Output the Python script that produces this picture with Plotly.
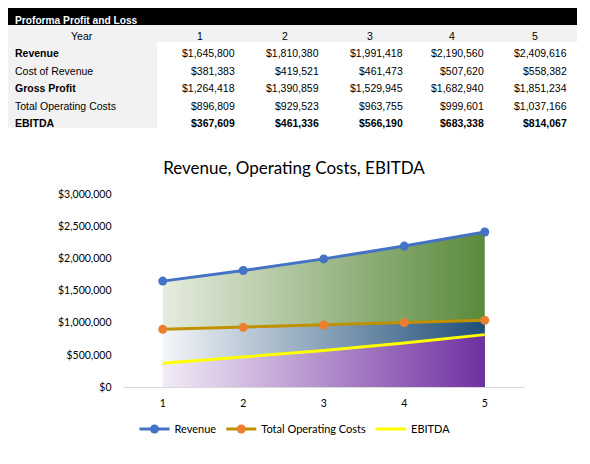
import plotly.graph_objects as go

years = [1, 2, 3, 4, 5]
revenue = [1645800, 1810380, 1991418, 2190560, 2409616]
cost_of_revenue = [381383, 419521, 461473, 507620, 558382]
gross_profit = [1264418, 1390859, 1529945, 1682940, 1851234]
operating_costs = [896809, 929523, 963755, 999601, 1037166]
ebitda = [367609, 461336, 566190, 683338, 814067]

row_labels = ["Revenue", "Cost of Revenue", "Gross Profit", "Total Operating Costs", "EBITDA"]
bold_rows = ["Revenue", "Gross Profit", "EBITDA"]

# the page puts the figure 8px in from the window edge, so the figure is
# made 16px smaller and every position below is in window pixels
OFF = 8
W, H = 590 - 2 * OFF, 464 - 2 * OFF
TABLE_FONT = "Liberation Sans, Arial, sans-serif"
CHART_FONT = "Lato, Open Sans, sans-serif"
GRAY = "#f2f2f2"


def px(x):
    return (x - OFF) / W


def py(y):
    return 1 - (y - OFF) / H


def money(v):
    return "${:,}".format(v)


fig = go.Figure()

# ---- P&L table drawn with shapes + annotations ----
shapes = [
    dict(type="rect", xref="paper", yref="paper", x0=px(5), x1=px(577), y0=py(25), y1=py(8),
         fillcolor="black", line_width=0, layer="below"),
    dict(type="rect", xref="paper", yref="paper", x0=px(5), x1=px(577), y0=py(42), y1=py(25),
         fillcolor=GRAY, line_width=0, layer="below"),
    dict(type="rect", xref="paper", yref="paper", x0=px(5), x1=px(157), y0=py(128), y1=py(42),
         fillcolor=GRAY, line_width=0, layer="below"),
]

ann = [dict(text="<b>Proforma Profit and Loss</b>", x=px(13), y=py(20.5), xanchor="left", yanchor="middle",
            font=dict(family=TABLE_FONT, size=10.2, color="white"))]

row_y = [53.4, 70.8, 88.2, 105.6, 123]
col_right = [237, 321, 405, 486, 569]
col_center = [200, 285, 370, 452, 535]

ann.append(dict(text="Year", x=px(82), y=py(36), xanchor="center", yanchor="middle",
                font=dict(family=TABLE_FONT, size=10.5, color="black")))
for yr, cx in zip(years, col_center):
    ann.append(dict(text=str(yr), x=px(cx), y=py(36), xanchor="center", yanchor="middle",
                    font=dict(family=TABLE_FONT, size=10.5, color="black")))

rows = [revenue, cost_of_revenue, gross_profit, operating_costs, ebitda]
for lbl, vals, ry in zip(row_labels, rows, row_y):
    ann.append(dict(text="<b>%s</b>" % lbl if lbl in bold_rows else lbl,
                    x=px(13), y=py(ry), xanchor="left", yanchor="middle",
                    font=dict(family=TABLE_FONT, size=10.5, color="black")))
    for v, rx in zip(vals, col_right):
        txt = money(v)
        ann.append(dict(text="<b>%s</b>" % txt if lbl == "EBITDA" else txt,
                        x=px(rx), y=py(ry), xanchor="right", yanchor="middle",
                        font=dict(family=TABLE_FONT, size=10.5, color="black")))

for a in ann:
    a.update(xref="paper", yref="paper", showarrow=False)

# ---- chart: overlapping areas with a light-to-dark horizontal gradient ----
areas = [
    (revenue, "#e6ecdf", "#5a8a3c"),
    (operating_costs, "#f4f6f8", "#1f4e79"),
    (ebitda, "#f3ecf6", "#7030a0"),
]
for vals, c_light, c_dark in areas:
    fig.add_trace(go.Scatter(
        x=years, y=vals, mode="none", fill="tozeroy",
        fillgradient=dict(type="horizontal", colorscale=[[0, c_light], [1, c_dark]]),
        showlegend=False, hoverinfo="skip",
    ))

fig.add_trace(go.Scatter(
    x=years, y=revenue, name="Revenue", mode="lines+markers",
    line=dict(color="#4472c4", width=3),
    marker=dict(color="#4472c4", size=9),
))
fig.add_trace(go.Scatter(
    x=years, y=operating_costs, name="Total Operating Costs", mode="lines+markers",
    line=dict(color="#bf9000", width=3),
    marker=dict(color="#ed7d31", size=9),
))
fig.add_trace(go.Scatter(
    x=years, y=ebitda, name="EBITDA", mode="lines",
    line=dict(color="#ffff00", width=3),
))

fig.update_layout(
    width=W, height=H,
    margin=dict(l=0, r=0, t=0, b=0),
    paper_bgcolor="white",
    plot_bgcolor="white",
    font=dict(family=CHART_FONT, color="#595959"),
    shapes=shapes,
    annotations=ann,
    title=dict(
        text="Revenue, Operating Costs, EBITDA",
        x=px(294), xanchor="center", y=py(168), yanchor="middle",
        font=dict(family=CHART_FONT, size=17, color="#000000"),
    ),
    xaxis=dict(
        domain=[px(122.5), px(525)], range=[0.5, 5.5],
        tickvals=years, ticktext=[str(y) for y in years],
        showgrid=False, zeroline=False, automargin=False,
        showline=True, linecolor="#d9d9d9", linewidth=1,
        ticks="", ticklabelstandoff=6,
        tickfont=dict(size=10.5, color="#000000"),
    ),
    yaxis=dict(
        domain=[py(387), py(194)], range=[0, 3000000],
        tickvals=[0, 500000, 1000000, 1500000, 2000000, 2500000, 3000000],
        tickformat="$,.0f",
        showgrid=False, zeroline=False, showline=False, automargin=False,
        ticks="", ticklabelstandoff=10,
        tickfont=dict(size=10.5, color="#000000"),
    ),
    legend=dict(
        orientation="h", x=px(295), xanchor="center", y=py(429), yanchor="middle",
        font=dict(size=11, color="#000000"),
        itemwidth=30,
    ),
)

fig.write_html("out.html")
